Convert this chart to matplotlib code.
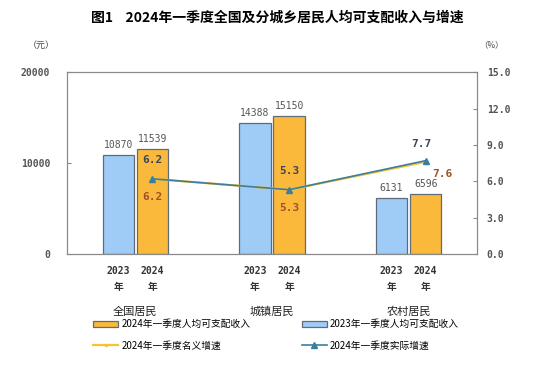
import numpy as np
import matplotlib.pyplot as plt

plt.rcParams['font.family'] = ['Noto Sans CJK SC', 'DejaVu Sans']

# data
groups = ['全国居民', '城镇居民', '农村居民']
years = ['2023\n年', '2024\n年']
income_2023 = [10870, 14388, 6131]
income_2024 = [11539, 15150, 6596]
nominal_growth = [6.2, 5.3, 7.6]
real_growth = [6.2, 5.3, 7.7]

c_blue = '#9fcbf7'
c_orange = '#fbb93c'
c_edge = '#5f6b78'
c_nom = '#f7c335'
c_real = '#3a7f9e'
c_brown = '#a0522d'
c_dark = '#3e4656'
c_grey = '#555555'
mono = ['DejaVu Sans Mono', 'Noto Sans CJK SC']

fig = plt.figure(figsize=(5.54, 3.74), dpi=100)
ax = fig.add_axes([0.121, 0.321, 0.74, 0.486])
ax2 = ax.twinx()

x = np.arange(len(groups))
w = 0.23
off = 0.125

b1 = ax.bar(x - off, income_2023, w, color=c_blue, edgecolor=c_edge, linewidth=0.9, zorder=2)
b2 = ax.bar(x + off, income_2024, w, color=c_orange, edgecolor=c_edge, linewidth=0.9, zorder=2)

for xi, v in zip(x - off, income_2023):
    ax.text(xi, v + 600, str(v), ha='center', va='bottom', fontsize=7,
            family=mono, color=c_grey)
for xi, v in zip(x + off, income_2024):
    ax.text(xi, v + 600, str(v), ha='center', va='bottom', fontsize=7,
            family=mono, color=c_grey)

ax.set_xlim(-0.5, 2.5)
ax.set_ylim(0, 20000)
ax.set_yticks([0, 10000, 20000])
ax.set_yticklabels(['0', '10000', '20000'], family=mono, fontsize=7,
                   color=c_grey, fontweight='bold')
ax.tick_params(axis='y', direction='in', length=3, color='#888888', pad=12)

ticks = list(x - off) + list(x + off)
ax.set_xticks(ticks)
ax.set_xticklabels([years[0]] * 3 + [years[1]] * 3, family=mono, fontsize=7,
                   fontweight='bold', color='#333333', linespacing=1.7)
ax.tick_params(axis='x', length=0, pad=9)

for s in ax.spines.values():
    s.set_color('#8a8a8a')
for s in ax2.spines.values():
    s.set_color('#8a8a8a')

# growth lines
ax2.plot(x + off, nominal_growth, color=c_nom, linewidth=1.6, marker='.',
         markersize=3, zorder=3)
ax2.plot(x + off, real_growth, color=c_real, linewidth=1.2, marker='^',
         markersize=4, zorder=4)
ax2.set_ylim(0, 15)
ax2.set_yticks(np.arange(0, 15.1, 3))
ax2.set_yticklabels([f'{t:.1f}' for t in np.arange(0, 15.1, 3)], family=mono,
                    fontsize=7, color=c_grey, fontweight='bold')
ax2.tick_params(axis='y', direction='in', length=3, color='#888888', pad=7)

for i in range(2):
    ax2.text(x[i] + off, real_growth[i] + 1.1, f'{real_growth[i]}', ha='center',
             va='bottom', fontsize=8, family=mono, fontweight='bold', color=c_dark)
    ax2.text(x[i] + off, nominal_growth[i] - 1.1, f'{nominal_growth[i]}', ha='center',
             va='top', fontsize=8, family=mono, fontweight='bold', color=c_brown)
ax2.text(x[2] + off - 0.03, real_growth[2] + 1.0, f'{real_growth[2]}', ha='center',
         va='bottom', fontsize=8, family=mono, fontweight='bold', color=c_dark)
ax2.text(x[2] + off + 0.12, nominal_growth[2] - 0.6, f'{nominal_growth[2]}', ha='center',
         va='top', fontsize=8, family=mono, fontweight='bold', color=c_brown)

# group labels
for xi, g in zip(x, groups):
    ax.text(xi, -0.318, g, transform=ax.get_xaxis_transform(), ha='center',
            va='center', fontsize=8, color='#222222')

fig.text(0.5, 0.952, '图1    2024年一季度全国及分城乡居民人均可支配收入与增速',
         ha='center', va='center', fontsize=10, fontweight='bold')
fig.text(0.075, 0.88, '（元）', ha='center', va='center', fontsize=6.5, color='#444444')
fig.text(0.888, 0.88, '（%）', ha='center', va='center', fontsize=6, color='#444444')

handles = [b2, ax2.lines[0], b1, ax2.lines[1]]
labels = ['2024年一季度人均可支配收入', '2024年一季度名义增速',
          '2023年一季度人均可支配收入', '2024年一季度实际增速']
fig.legend(handles, labels, ncol=2, loc='upper left', bbox_to_anchor=(0.168, 0.146),
           frameon=False, fontsize=7, handlelength=2.6, handleheight=0.6,
           columnspacing=5.3, labelspacing=1.15, handletextpad=0.3,
           borderpad=0, borderaxespad=0)

fig.savefig('out.png', dpi=100)
